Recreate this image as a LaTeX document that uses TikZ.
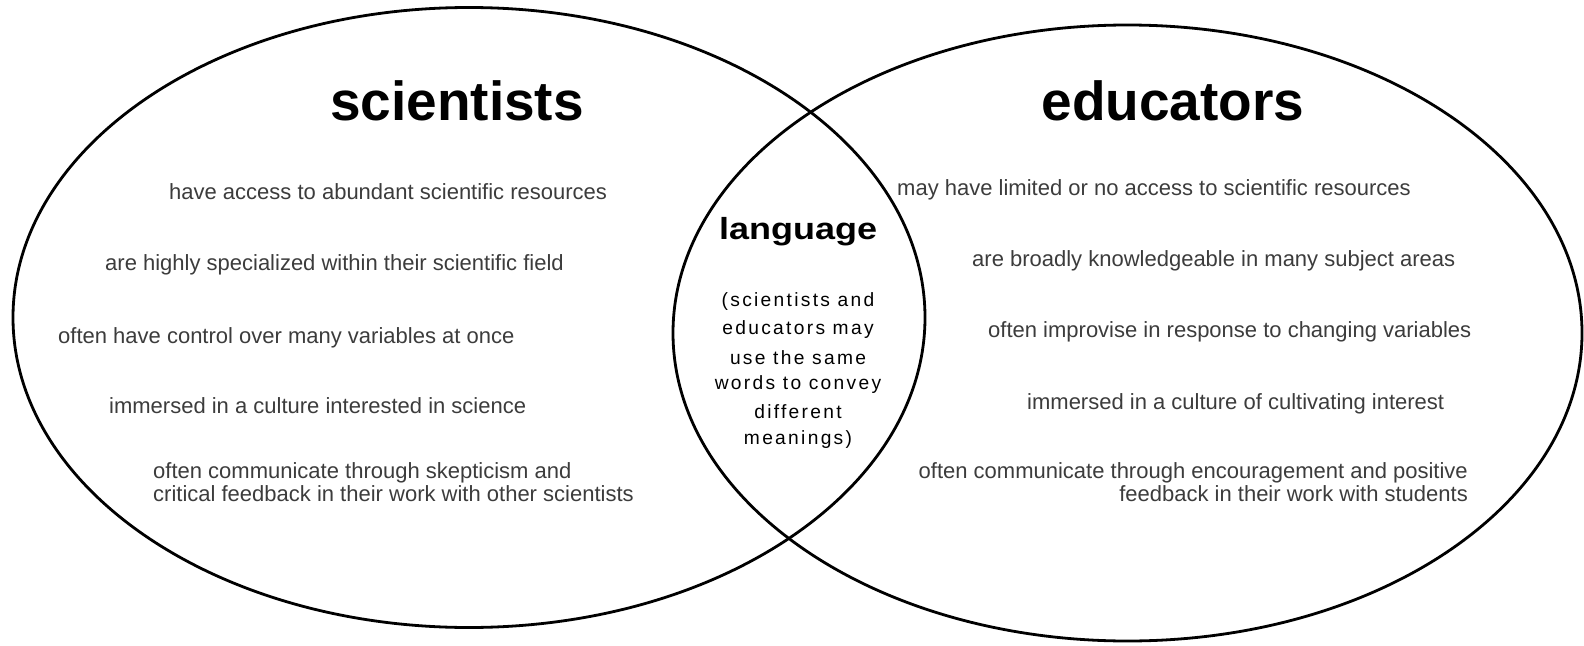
\documentclass[tikz,border=0pt]{standalone}
\usepackage{fontspec}
\setmainfont{Liberation Sans}
\newfontfamily\lensfont[LetterSpace=12]{Liberation Sans}
\definecolor{bodygray}{HTML}{3C3C3C}
\begin{document}
\begin{tikzpicture}[x=1pt,y=-1pt]
\tikzset{
  ring/.style={draw=black, line width=2.8pt},
  title/.style={font=\fontsize{55}{60}\selectfont\bfseries, text=black, inner sep=0pt},
  item/.style={font=\fontsize{22}{24}\selectfont, text=bodygray, inner sep=0pt},
  lenstitle/.style={font=\fontsize{30.5}{34}\selectfont\bfseries, inner sep=0pt},
  lenstext/.style={font=\lensfont\fontsize{19.2}{22}\selectfont, inner sep=0pt}
}
\useasboundingbox (0,0) rectangle (1584,645);
\fill[white] (0,0) rectangle (1584,645);
\draw[ring] (469,317.5) ellipse [x radius=456, y radius=310];
\draw[ring] (1127.5,333) ellipse [x radius=454.5, y radius=308];

\node[title] (tsci) at (457,101) {scientists};
\node[title] (tedu) at (1173,101) {educators};

\node[item, anchor=west] (s1) at (169,192) {have access to abundant scientific resources};
\node[item, anchor=west] (s2) at (105,265) {are highly specialized within their scientific field};
\node[item, anchor=west] (s3) at (58,338) {often have control over many variables at once};
\node[item, anchor=west] (s4) at (109,406) {immersed in a culture interested in science};
\node[item, anchor=north west, align=left, font=\fontsize{22}{23.5}\selectfont] (s5) at (153,462) {often communicate through skepticism and\\critical feedback in their work with other scientists};

\node[item, anchor=west] (e1) at (897,190) {may have limited or no access to scientific resources};
\node[item, anchor=west] (e2) at (972,261) {are broadly knowledgeable in many subject areas};
\node[item, anchor=west] (e3) at (988,332) {often improvise in response to changing variables};
\node[item, anchor=west] (e4) at (1027,404) {immersed in a culture of cultivating interest};
\node[item, anchor=north east, align=right, font=\fontsize{22}{23.5}\selectfont] (e5) at (1468,462) {often communicate through encouragement and positive\\feedback in their work with students};

\node[lenstitle] (lang) at (798,232) {\scalebox{1.18}[1]{language}};
\node[lenstext] (l1) at (798,302) {(scientists and};
\node[lenstext] (l2) at (798,330) {educators may};
\node[lenstext] (l3) at (798,358) {use the same};
\node[lenstext] (l4) at (798,385) {words to convey};
\node[lenstext] (l5) at (798,412) {different};
\node[lenstext] (l6) at (798,440) {meanings)};
\end{tikzpicture}
\end{document}
